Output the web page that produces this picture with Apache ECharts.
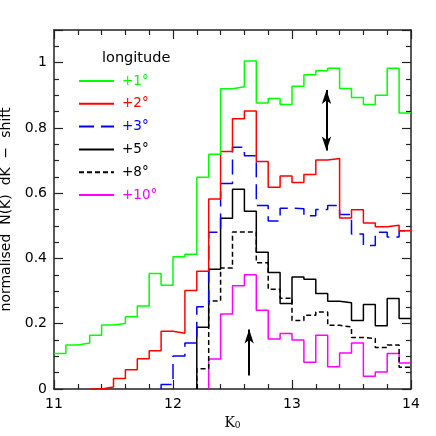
<!DOCTYPE html>
<html>
<head>
<meta charset="utf-8">
<script src="https://cdn.jsdelivr.net/npm/echarts@6/dist/echarts.min.js"></script>
<style>
  html, body { margin: 0; padding: 0; background: #fff; }
  #chart { width: 436px; height: 436px; }
</style>
</head>
<body>
<div id="chart"></div>
<script>
// histogram bins are 0.1 wide in K0, each series starts at its own bin edge
var binWidth = 0.1;
var seriesNames = ['+1°', '+2°', '+3°', '+5°', '+8°', '+10°'];
var binStarts = [11.0, 11.3, 11.9, 12.2, 12.2, 12.3];

var lon1 = [0.109, 0.135, 0.141, 0.165, 0.196, 0.201, 0.221, 0.254, 0.354, 0.318,
            0.405, 0.413, 0.649, 0.719, 0.920, 0.926, 1.005, 0.876, 0.890, 0.872,
            0.928, 0.963, 0.975, 0.983, 0.921, 0.893, 0.872, 0.900, 0.983, 0.846];
var lon2 = [0.000, 0.006, 0.032, 0.059, 0.093, 0.117, 0.177, 0.171, 0.302, 0.361,
            0.582, 0.728, 0.828, 0.852, 0.697, 0.618, 0.653, 0.633, 0.657, 0.702,
            0.706, 0.524, 0.549, 0.509, 0.497, 0.502, 0.485];
var lon3 = [0.014, 0.101, 0.141, 0.252, 0.480, 0.630, 0.741, 0.715, 0.562, 0.515,
            0.554, 0.552, 0.531, 0.550, 0.562, 0.535, 0.475, 0.440, 0.480, 0.466, 0.485];
var lon5 = [0.189, 0.367, 0.523, 0.612, 0.545, 0.419, 0.357, 0.262, 0.343, 0.336,
            0.293, 0.269, 0.264, 0.210, 0.259, 0.194, 0.277, 0.216];
var lon8 = [0.062, 0.270, 0.371, 0.481, 0.481, 0.387, 0.306, 0.278, 0.210, 0.226,
            0.236, 0.195, 0.190, 0.158, 0.155, 0.127, 0.135, 0.067];
var lon10 = [0.092, 0.230, 0.316, 0.350, 0.241, 0.153, 0.170, 0.150, 0.082, 0.165,
             0.068, 0.110, 0.141, 0.039, 0.052, 0.109, 0.080];

var xTicks = [11, 12, 13, 14];
var yTicks = [0, 0.2, 0.4, 0.6, 0.8, 1];

// arrows drawn on the plot: [K0, from, to]
var doubleArrow = [13.29, 0.916, 0.731];
var upArrow = [12.64, 0.041, 0.182];

var allValues = [lon1, lon2, lon3, lon5, lon8, lon10];
var colors = ['#00ff00', '#ff0000', '#0000ff', '#000000', '#000000', '#ff00ff'];
var dashes = ['solid', 'solid', [15, 7], 'solid', [5, 3], 'solid'];

// turn bin values into step points
function steps(start, vals) {
    var pts = [];
    if (start > xTicks[0]) pts.push([start, 0]);
    vals.forEach(function(v, i) {
        pts.push([+(start + i * binWidth).toFixed(2), v]);
    });
    pts.push([+(start + vals.length * binWidth).toFixed(2), vals[vals.length - 1]]);
    return pts;
}

var font = 'DejaVu Sans';
var frame = '#222';

function axisBase(extra) {
    var a = {
        axisLine: { show: true, onZero: false, lineStyle: { color: frame, width: 1.5 } },
        axisTick: { show: true, inside: true, length: 9, lineStyle: { color: frame, width: 1.2 } },
        minorTick: { show: true, length: 5, lineStyle: { color: frame, width: 1.2 } },
        splitLine: { show: false },
        minorSplitLine: { show: false }
    };
    for (var k in extra) a[k] = extra[k];
    return a;
}

var series = allValues.map(function(vals, i) {
    return {
        name: seriesNames[i],
        type: 'line',
        step: 'end',
        symbol: 'none',
        data: steps(binStarts[i], vals),
        lineStyle: { color: colors[i], width: 1.5, type: dashes[i] },
        itemStyle: { color: colors[i] },
        z: 10 - i
    };
});

series[3].markLine = {
    silent: true,
    animation: false,
    symbol: ['arrow', 'arrow'],
    symbolSize: [7, 14],
    label: { show: false },
    lineStyle: { color: '#000', width: 2, type: 'solid' },
    data: [[{ coord: [doubleArrow[0], doubleArrow[1]] }, { coord: [doubleArrow[0], doubleArrow[2]] }]]
};
series[4].markLine = {
    silent: true,
    animation: false,
    symbol: ['none', 'arrow'],
    symbolSize: [7, 14],
    label: { show: false },
    lineStyle: { color: '#000', width: 2, type: 'solid' },
    data: [[{ coord: [upArrow[0], upArrow[1]] }, { coord: [upArrow[0], upArrow[2]] }]]
};

var chart = echarts.init(document.getElementById('chart'));
chart.setOption({
    animation: false,
    backgroundColor: '#fff',
    grid: { left: 54, right: 25, top: 30, bottom: 47, outerBoundsMode: 'none', containLabel: false },
    textStyle: { fontFamily: font },
    xAxis: [
        axisBase({
            type: 'value', position: 'bottom',
            min: xTicks[0], max: xTicks[xTicks.length - 1], interval: 1,
            minorTick: { show: true, splitNumber: 5, length: 5, lineStyle: { color: frame, width: 1.2 } },
            axisLabel: { color: '#000', fontSize: 14, margin: 8, fontFamily: font },
            name: '{k|K}{s|0}',
            nameLocation: 'middle',
            nameGap: 19,
            nameTextStyle: {
                rich: {
                    k: { fontFamily: 'DejaVu Serif', fontSize: 14, color: '#000' },
                    s: { fontFamily: 'DejaVu Serif', fontSize: 9, color: '#000', padding: [6, 0, 0, 0] }
                }
            }
        }),
        axisBase({
            type: 'value', position: 'top',
            min: xTicks[0], max: xTicks[xTicks.length - 1], interval: 1,
            minorTick: { show: true, splitNumber: 5, length: 5, lineStyle: { color: frame, width: 1.2 } },
            axisLabel: { show: false }
        })
    ],
    yAxis: [
        axisBase({
            type: 'value', position: 'left',
            min: 0, max: 1.1, interval: 0.2,
            minorTick: { show: true, splitNumber: 4, length: 5, lineStyle: { color: frame, width: 1.2 } },
            axisLabel: {
                color: '#000', fontSize: 14, margin: 7, fontFamily: font, showMaxLabel: false,
                formatter: function(v) { return yTicks.indexOf(+v.toFixed(1)) >= 0 ? String(+v.toFixed(1)) : ''; }
            },
            name: 'normalised  N(K)  dK  \u2212  shift',
            nameLocation: 'middle',
            nameGap: 36,
            nameTextStyle: { color: '#000', fontSize: 14, fontFamily: font }
        }),
        axisBase({
            type: 'value', position: 'right',
            min: 0, max: 1.1, interval: 0.2,
            minorTick: { show: true, splitNumber: 4, length: 5, lineStyle: { color: frame, width: 1.2 } },
            axisLabel: { show: false }
        })
    ],
    legend: {
        orient: 'vertical',
        left: 73,
        top: 69,
        itemWidth: 35,
        itemHeight: 14,
        itemGap: 8.8,
        selectedMode: false,
        itemStyle: { color: 'rgba(0,0,0,0)', borderColor: 'rgba(0,0,0,0)', borderWidth: 0 },
        data: seriesNames.map(function(n, i) {
            return { name: n, textStyle: { color: colors[i], fontSize: 13.5, fontFamily: font, padding: [0, 0, 0, 3] } };
        })
    },
    graphic: [{
        type: 'text',
        left: 102,
        top: 51,
        style: { text: 'longitude', fill: '#000', font: '14.5px "DejaVu Sans"' }
    }],
    series: series
});
</script>
</body>
</html>
